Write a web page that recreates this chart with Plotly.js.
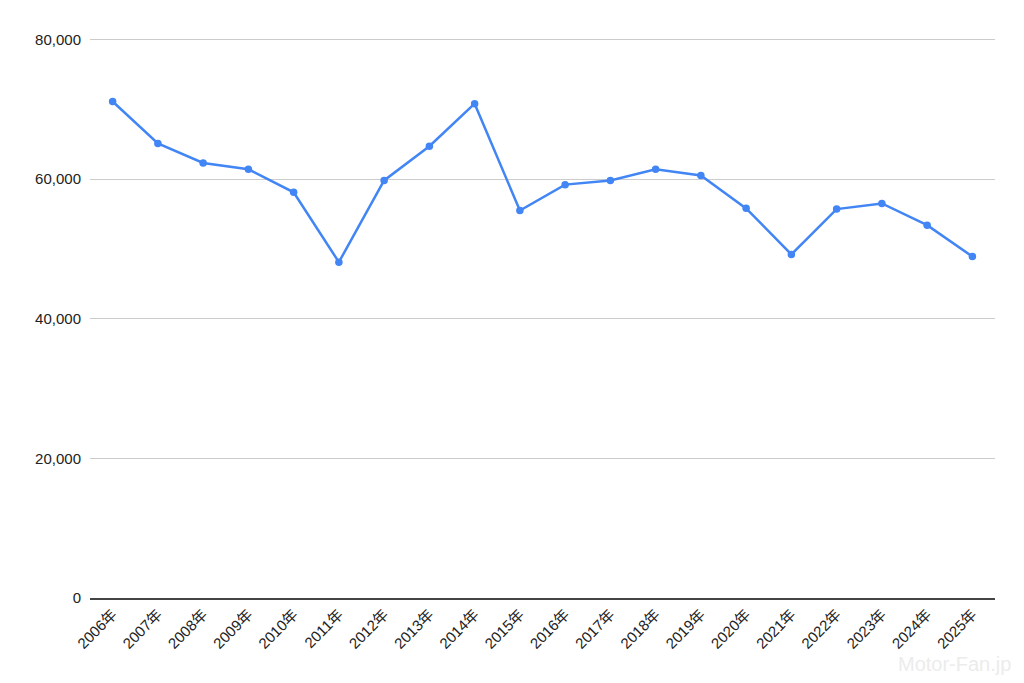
<!DOCTYPE html>
<html><head><meta charset="utf-8">
<script src="https://cdn.plot.ly/plotly-3.0.1.min.js"></script>
<style>html,body{margin:0;padding:0;background:#fff}#chart{width:1024px;height:683px}</style>
</head><body><div id="chart"></div>
<script>
const years = ["2006年","2007年","2008年","2009年","2010年","2011年","2012年","2013年","2014年","2015年","2016年","2017年","2018年","2019年","2020年","2021年","2022年","2023年","2024年","2025年"];
const values = [71100,65100,62300,61400,58100,48100,59800,64700,70800,55500,59200,59800,61400,60500,55800,49200,55700,56500,53400,48900];
const yTicks = [0,20000,40000,60000,80000];
const yTickLabels = ["0","20,000","40,000","60,000","80,000"];

Plotly.newPlot('chart',[{
  x: years, y: values, type:'scatter', mode:'lines+markers',
  line:{color:'#4285f4', width:2.5},
  marker:{color:'#4285f4', size:7.5},
  hoverinfo:'x+y'
}],{
  width:1024, height:683,
  margin:{l:90,r:29,t:38,b:85},
  paper_bgcolor:'#fff', plot_bgcolor:'#fff',
  showlegend:false,
  font:{family:'"Liberation Sans", Arial, "Noto Sans CJK JP", sans-serif', size:15, color:'#222'},
  xaxis:{type:'category', range:[-0.5,19.5], tickangle:-45, showgrid:false, zeroline:false,
         showline:true, linecolor:'#444', linewidth:1.5, ticks:'', tickfont:{size:15,color:'#222'}},
  yaxis:{range:[0,80200], tickvals:yTicks, ticktext:yTickLabels, showgrid:true, gridcolor:'#cccccc',
         zeroline:false, showline:false, ticks:'', tickfont:{size:15,color:'#222'}, ticklabelstandoff:8},
  annotations:[{text:'Motor-Fan.jp', xref:'paper', yref:'paper', x:1.02, y:-0.095, xanchor:'right', yanchor:'top',
    showarrow:false, font:{size:20, color:'#ececec', family:'"Liberation Sans", Arial, sans-serif'}}]
},{displayModeBar:false});
</script></body></html>
